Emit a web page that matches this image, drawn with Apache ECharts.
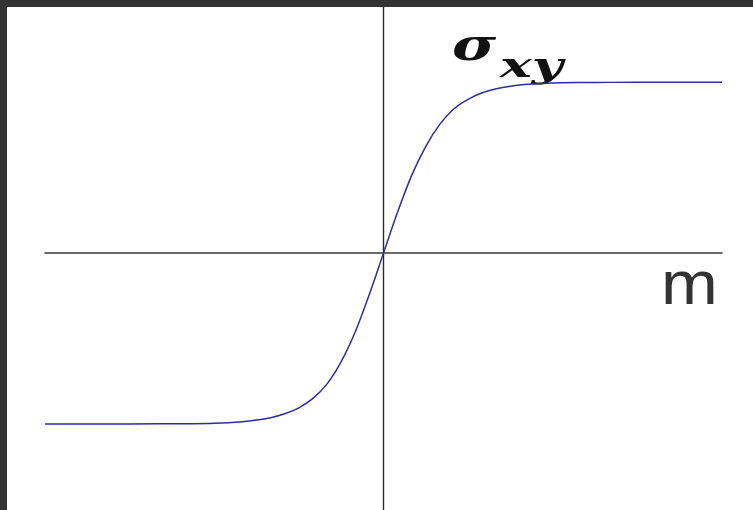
<!DOCTYPE html>
<html>
<head>
<meta charset="utf-8">
<script src="https://cdn.jsdelivr.net/npm/echarts@6/dist/echarts.min.js"></script>
<style>
  html, body { margin: 0; padding: 0; background: #333333; }
  #frame { position: relative; width: 753px; height: 510px; background: #333333; overflow: hidden; }
  #chart { position: absolute; left: 7px; top: 7px; width: 746px; height: 503px; background: #ffffff; }
</style>
</head>
<body>
<div id="frame"><div id="chart"></div></div>
<script>
// Magnetisation m along the horizontal axis
const mValues = [-6, -5, -4, -3.5, -3, -2.5, -2.25, -2, -1.75, -1.5, -1.25, -1, -0.75, -0.5, -0.25,
                 0, 0.25, 0.5, 0.75, 1, 1.25, 1.5, 1.75, 2, 2.25, 2.5, 3, 3.5, 4, 5, 6];
// Stress sigma_xy at each m
const sigmaValues = [-1, -1, -0.999, -0.998, -0.995, -0.986, -0.977, -0.963, -0.94, -0.905, -0.85, -0.765, -0.635, -0.46, -0.24,
                     0, 0.24, 0.455, 0.625, 0.755, 0.845, 0.9, 0.938, 0.962, 0.977, 0.986, 0.995, 0.998, 0.999, 1, 1];

const axisLabelX = 'm';
const axisLabelMain = 'σ';
const axisLabelSub = 'xy';

const points = mValues.map((m, i) => [m, sigmaValues[i]]);

const chart = echarts.init(document.getElementById('chart'), null, { renderer: 'canvas' });
chart.setOption({
  animation: false,
  backgroundColor: '#ffffff',
  grid: { left: 38, right: 31, top: 0, bottom: 0.5, containLabel: false },
  xAxis: {
    type: 'value', min: -6, max: 6,
    axisLine: { show: true, onZero: true, lineStyle: { color: '#3a3a3a', width: 1.6 } },
    axisTick: { show: false }, axisLabel: { show: false }, splitLine: { show: false }
  },
  yAxis: {
    type: 'value', min: -1.5, max: 1.44,
    axisLine: { show: true, onZero: true, lineStyle: { color: '#2a2a2a', width: 1.4 } },
    axisTick: { show: false }, axisLabel: { show: false }, splitLine: { show: false }
  },
  series: [{
    type: 'line',
    data: points,
    smooth: 0.35,
    showSymbol: false,
    lineStyle: { color: '#2d2d9e', width: 1.5 },
    z: 3
  }],
  graphic: [
    {
      type: 'text', x: 654, y: 249, scaleX: 1.1, scaleY: 1,
      style: { text: axisLabelX, x: 0, y: 0, align: 'left', verticalAlign: 'top',
               font: '62px "Liberation Sans", Arial, sans-serif', fill: '#333333' }
    },
    {
      type: 'text', x: 445, y: 19, scaleX: 1.33, scaleY: 1,
      style: { text: axisLabelMain, x: 0, y: 0, align: 'left', verticalAlign: 'top',
               font: 'italic bold 45px "DejaVu Serif", serif', fill: '#111111' }
    },
    {
      type: 'text', x: 493, y: 43, scaleX: 1.48, scaleY: 1,
      style: { text: axisLabelSub, x: 0, y: 0, align: 'left', verticalAlign: 'top',
               font: 'italic bold 36px "DejaVu Serif", serif', fill: '#111111' }
    }
  ]
});
</script>
</body>
</html>
